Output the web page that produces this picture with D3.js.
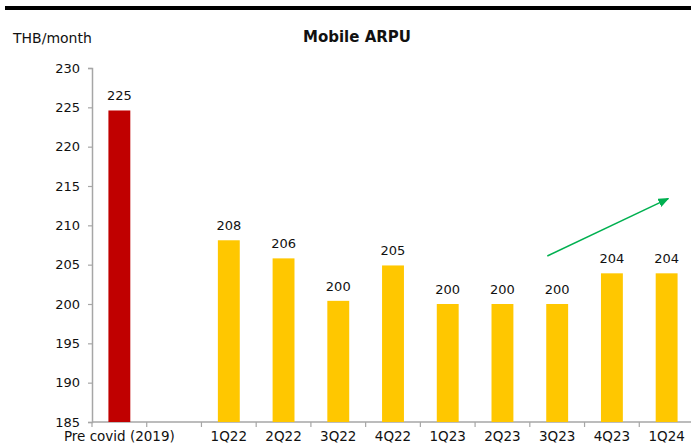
<!DOCTYPE html>
<html>
<head>
<meta charset="utf-8">
<script src="https://cdn.jsdelivr.net/npm/d3@7"></script>
<style>
  body { margin: 0; background: #fff; }
  text { font-family: "DejaVu Sans", sans-serif; }
</style>
</head>
<body>
<div id="chart"></div>
<script>
// Chart data
var categories = ["Pre covid (2019)", " ", "1Q22", "2Q22", "3Q22", "4Q22", "1Q23", "2Q23", "3Q23", "4Q23", "1Q24"];
var values = [224.6, null, 208.1, 205.8, 200.4, 204.9, 200.0, 200.0, 200.0, 203.9, 203.9];
var valueLabels = ["225", "", "208", "206", "200", "205", "200", "200", "200", "204", "204"];
var barColors = ["#C00000", null, "#FFC700", "#FFC700", "#FFC700", "#FFC700", "#FFC700", "#FFC700", "#FFC700", "#FFC700", "#FFC700"];
var yTicks = [185, 190, 195, 200, 205, 210, 215, 220, 225, 230];
// Trend arrow: [category, offset in bands, value]
var arrowFrom = ["3Q23", -0.18, 206.1];
var arrowTo = ["1Q24", 0.03, 213.4];

var W = 691, H = 448;
var margin = { top: 68, right: -3, bottom: 26, left: 92 };

var svg = d3.select("#chart").append("svg")
    .attr("width", W)
    .attr("height", H);

// Black rule at the top
svg.append("rect")
    .attr("x", 5).attr("y", 6)
    .attr("width", W - 5).attr("height", 4)
    .attr("fill", "#000");

var x = d3.scaleBand()
    .domain(categories)
    .range([margin.left, W - margin.right])
    .paddingInner(0.6)
    .paddingOuter(0.3);

var y = d3.scaleLinear()
    .domain([185, 230])
    .range([H - margin.bottom, margin.top]);

// Title and unit
svg.append("text")
    .attr("x", 357).attr("y", 42)
    .attr("text-anchor", "middle")
    .attr("font-size", "15px")
    .attr("font-weight", "bold")
    .attr("fill", "#111")
    .text("Mobile ARPU");

svg.append("text")
    .attr("x", 13).attr("y", 43)
    .attr("font-size", "14px")
    .attr("fill", "#111")
    .text("THB/month");

// Y axis
var yAxis = svg.append("g")
    .attr("transform", "translate(" + margin.left + ",0)")
    .call(d3.axisLeft(y).tickValues(yTicks).tickSize(4).tickPadding(8));
yAxis.select(".domain").attr("stroke", "#a6a6a6").attr("stroke-width", 1.5);
yAxis.selectAll(".tick line").attr("stroke", "#a6a6a6").attr("stroke-width", 1.2);
yAxis.selectAll(".tick text")
    .attr("font-size", "13px")
    .attr("fill", "#111")
    .style("font-family", "'DejaVu Sans', sans-serif");

// X axis line and separators between bands
var step = x.step();
var x0 = margin.left;
var xAxis = svg.append("g");
xAxis.append("line")
    .attr("x1", x0).attr("x2", W)
    .attr("y1", y(185)).attr("y2", y(185))
    .attr("stroke", "#a6a6a6").attr("stroke-width", 1.5);
xAxis.selectAll("line.sep")
    .data(categories)
    .enter().append("line")
    .attr("class", "sep")
    .attr("x1", function (d) { return x(d) - x.bandwidth() * 0.75; })
    .attr("x2", function (d) { return x(d) - x.bandwidth() * 0.75; })
    .attr("y1", y(185)).attr("y2", y(185) + 5)
    .attr("stroke", "#a6a6a6").attr("stroke-width", 1.2);
xAxis.selectAll("text")
    .data(categories)
    .enter().append("text")
    .attr("x", function (d) { return x(d) + x.bandwidth() / 2; })
    .attr("y", 441)
    .attr("text-anchor", "middle")
    .attr("font-size", "13.5px")
    .attr("fill", "#111")
    .text(function (d) { return d.trim(); });

// Bars
var rows = categories.map(function (c, i) {
    return { cat: c, value: values[i], label: valueLabels[i], color: barColors[i] };
}).filter(function (d) { return d.value !== null; });

svg.selectAll("rect.bar")
    .data(rows)
    .enter().append("rect")
    .attr("class", "bar")
    .attr("x", function (d) { return x(d.cat); })
    .attr("y", function (d) { return y(d.value); })
    .attr("width", x.bandwidth())
    .attr("height", function (d) { return y(185) - y(d.value); })
    .attr("fill", function (d) { return d.color; });

svg.selectAll("text.val")
    .data(rows)
    .enter().append("text")
    .attr("class", "val")
    .attr("x", function (d) { return x(d.cat) + x.bandwidth() / 2; })
    .attr("y", function (d) { return y(d.value) - 10; })
    .attr("text-anchor", "middle")
    .attr("font-size", "13px")
    .attr("fill", "#111")
    .text(function (d) { return d.label; });

// Green trend arrow
svg.append("defs").append("marker")
    .attr("id", "head")
    .attr("viewBox", "0 0 10 10")
    .attr("refX", 9).attr("refY", 5)
    .attr("markerWidth", 11).attr("markerHeight", 9)
    .attr("markerUnits", "userSpaceOnUse")
    .attr("orient", "auto")
    .attr("preserveAspectRatio", "none")
    .append("path")
    .attr("d", "M0,0L10,5L0,10Z")
    .attr("fill", "#00B050");

function ax(p) { return x(p[0]) + x.bandwidth() / 2 + p[1] * step; }
svg.append("line")
    .attr("x1", ax(arrowFrom)).attr("y1", y(arrowFrom[2]))
    .attr("x2", ax(arrowTo)).attr("y2", y(arrowTo[2]))
    .attr("stroke", "#00B050")
    .attr("stroke-width", 1.5)
    .attr("marker-end", "url(#head)");
</script>
</body>
</html>
